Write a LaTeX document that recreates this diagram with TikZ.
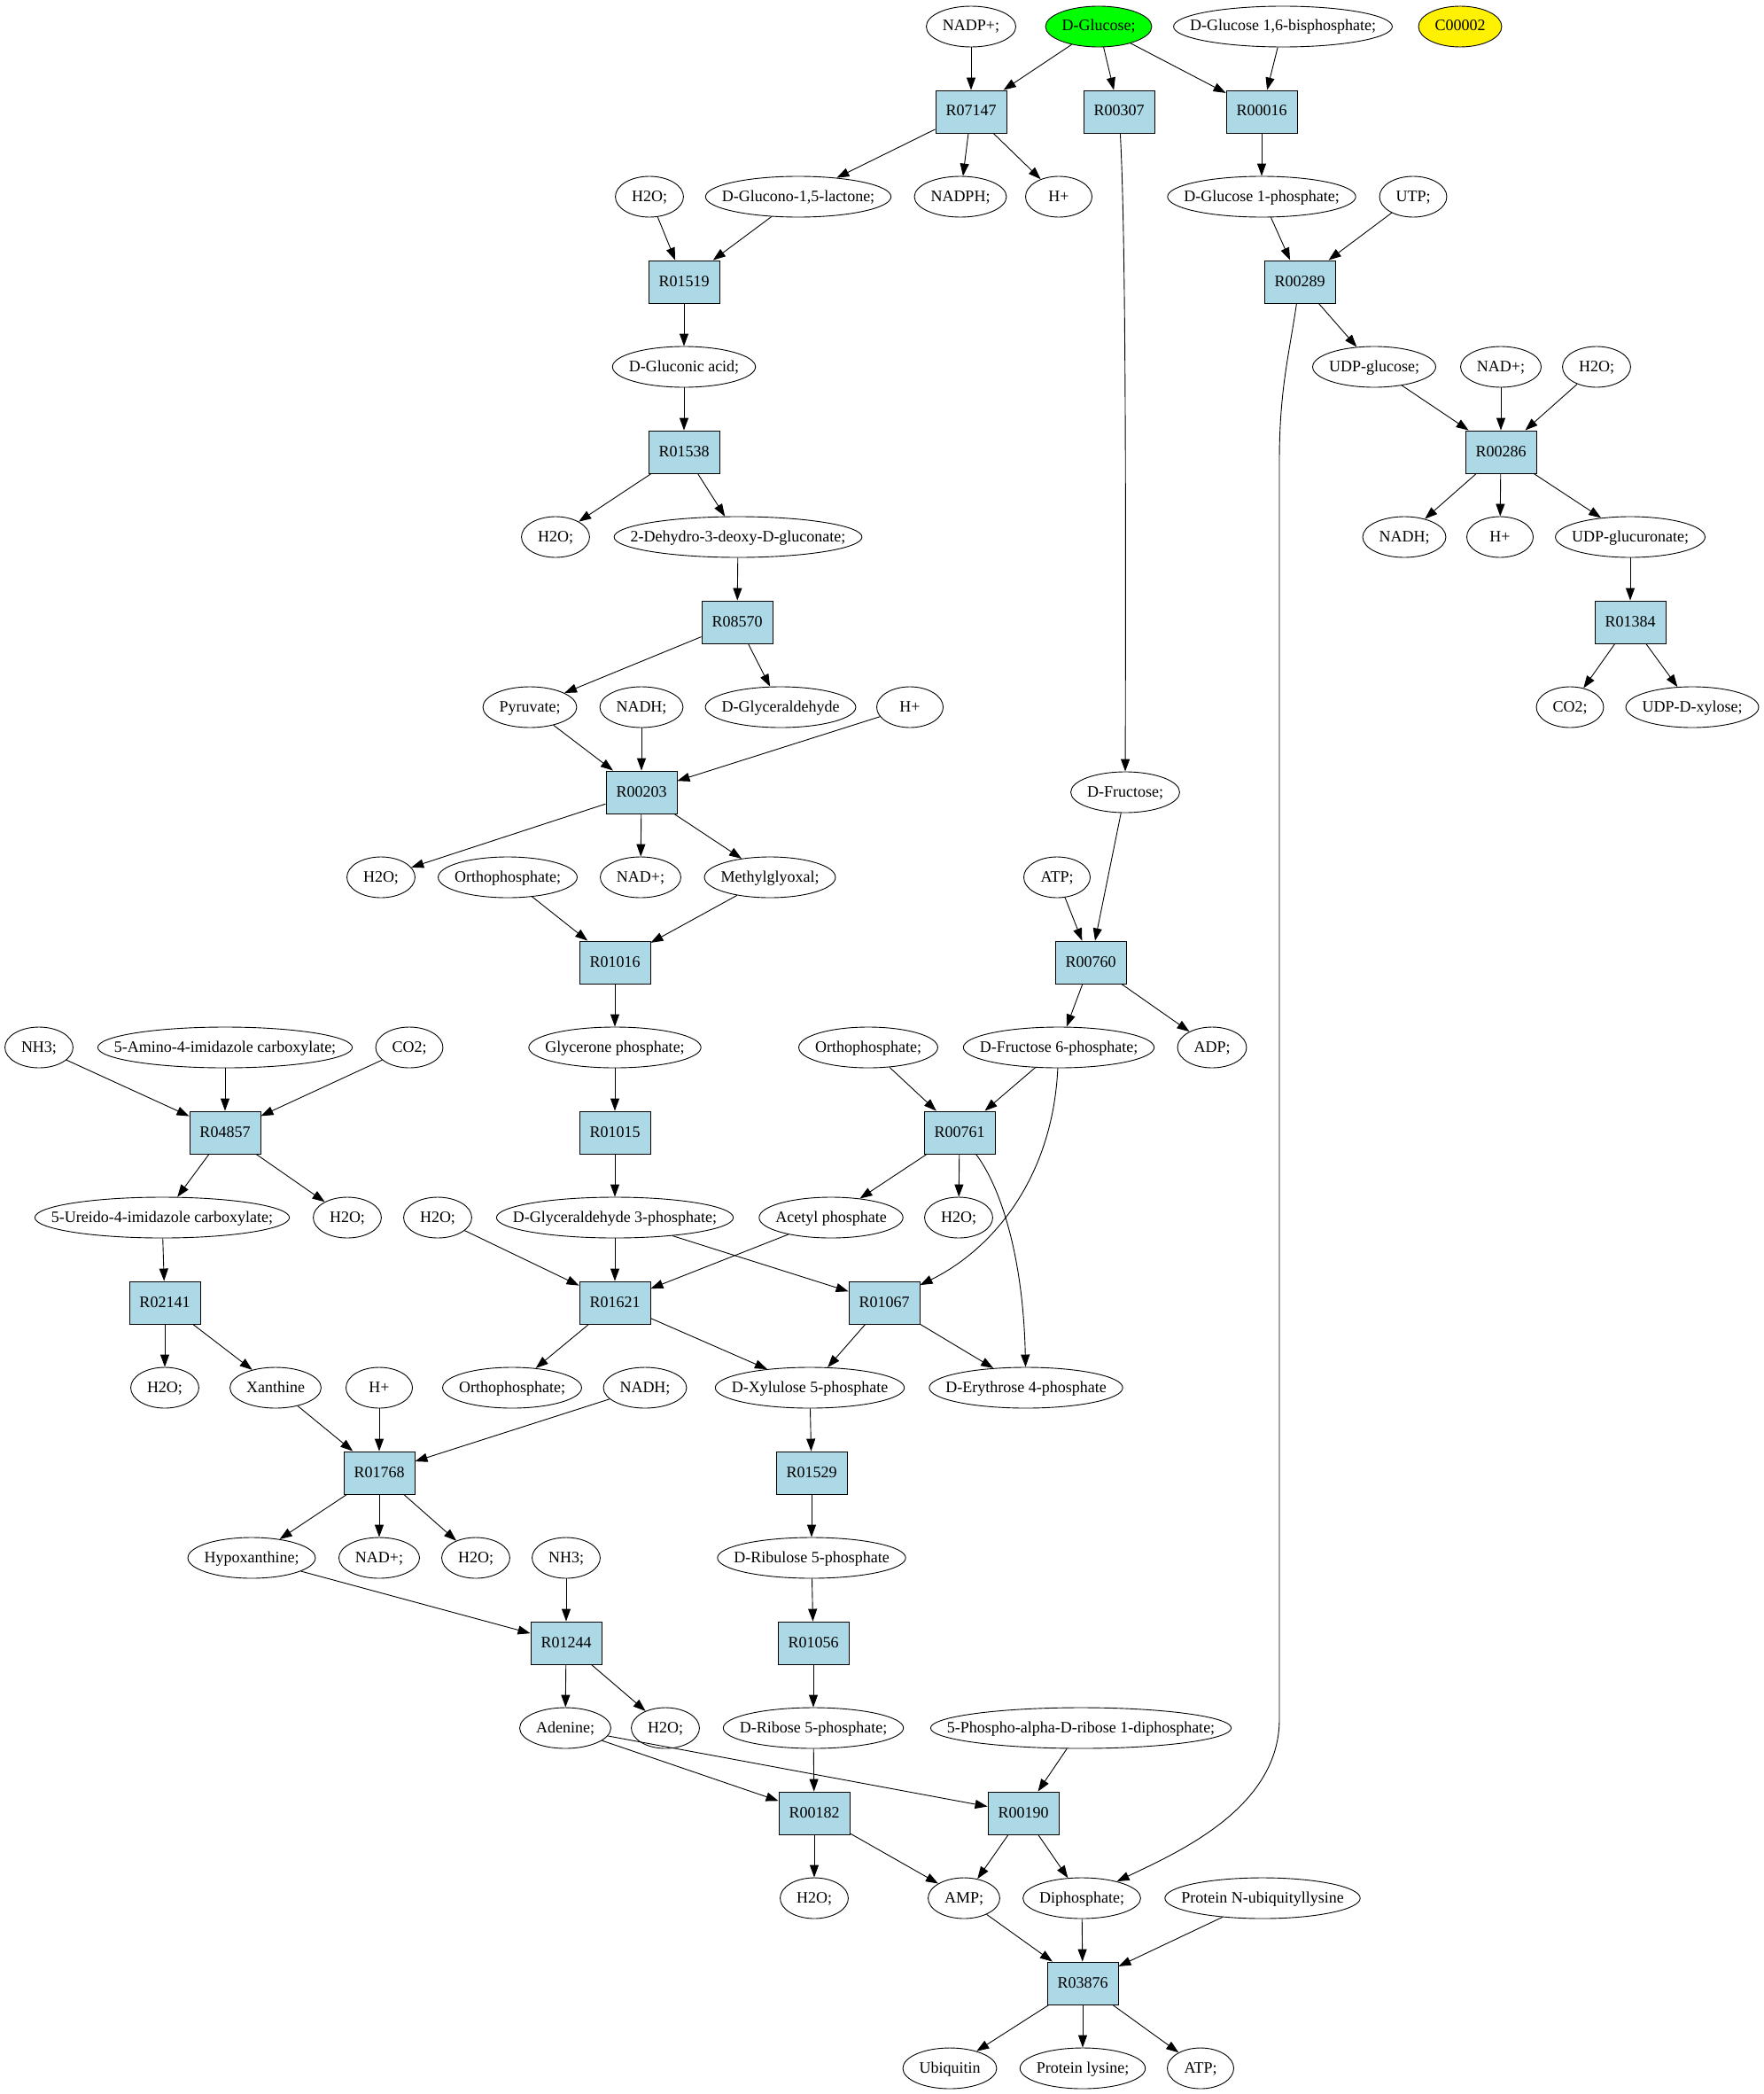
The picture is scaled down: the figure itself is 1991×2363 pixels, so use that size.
\documentclass[tikz,border=0pt]{standalone}
\usepackage{fontspec}
\setmainfont{Liberation Serif}
\usetikzlibrary{arrows.meta,shapes.geometric,calc}
\definecolor{rxnblue}{HTML}{ADD8E6}
\newcommand\gvsize{\fontsize{18}{22}\selectfont}
\tikzset{
  cpd/.style={ellipse,draw,inner xsep=-80pt,inner ysep=0pt,minimum height=46pt,font=\gvsize,text height=13pt,text depth=3pt},
  cpdbox/.style={rectangle,inner sep=0pt,font=\gvsize},
  rxn/.style={rectangle,draw,fill=rxnblue,inner sep=0pt,minimum width=80pt,minimum height=48pt,font=\gvsize,text height=13pt,text depth=3pt}
}
% 化合物（楕円の幅は文字幅+36pt、最小75pt）
\newcommand\cpd[4][white]{%
  \node[cpdbox] (#2x) at (#3) {\phantom{#4}};
  \path let \p1=(#2x.west), \p2=(#2x.east), \n1={max(\x2-\x1+36,75)} in
    node[cpd,fill=#1,minimum width=\n1] (#2) at (#3) {#4};}
\begin{document}
\begin{tikzpicture}[x=1pt,y=-1pt,line width=0.9pt,>={Triangle[length=14pt,width=10pt]}]
   \useasboundingbox (0,0) rectangle (1991,2363);
   % 化合物
   \cpd{nadpp}{1096,30}{NADP+;}
   \cpd[green]{glc}{1240,30}{D-Glucose;}
   \cpd{gbp}{1448,30}{D-Glucose 1,6-bisphosphate;}
   \cpd[yellow]{c00002}{1648,30}{C00002}
   \cpd{h2oa}{733,222}{H2O;}
   \cpd{gdl}{901,222}{D-Glucono-1,5-lactone;}
   \cpd{nadph}{1084,222}{NADPH;}
   \cpd{hpa}{1195,222}{H+}
   \cpd{gip}{1424,222}{D-Glucose 1-phosphate;}
   \cpd{utp}{1595,222}{UTP;}
   \cpd{glca}{772,414}{D-Gluconic acid;}
   \cpd{udpg}{1551,414}{UDP-glucose;}
   \cpd{nada}{1694,414}{NAD+;}
   \cpd{h2ob}{1802,414}{H2O;}
   \cpd{h2oc}{627,606}{H2O;}
   \cpd{kdg}{833,606}{2-Dehydro-3-deoxy-D-gluconate;}
   \cpd{nadha}{1585,606}{NADH;}
   \cpd{hpb}{1693,606}{H+}
   \cpd{udpga}{1840,606}{UDP-glucuronate;}
   \cpd{pyr}{598,798}{Pyruvate;}
   \cpd{nadhb}{724,798}{NADH;}
   \cpd{glyald}{881,798}{D-Glyceraldehyde}
   \cpd{hpc}{1027,798}{H+}
   \cpd{co2a}{1772,798}{CO2;}
   \cpd{udpx}{1910,798}{UDP-D-xylose;}
   \cpd{fru}{1270,894}{D-Fructose;}
   \cpd{h2od}{430,990}{H2O;}
   \cpd{pia}{573,990}{Orthophosphate;}
   \cpd{nadb}{723,990}{NAD+;}
   \cpd{mgo}{869,990}{Methylglyoxal;}
   \cpd{atpa}{1193,990}{ATP;}
   \cpd{nh3a}{44,1182}{NH3;}
   \cpd{aic}{254,1182}{5-Amino-4-imidazole carboxylate;}
   \cpd{co2b}{462,1182}{CO2;}
   \cpd{dhap}{694,1182}{Glycerone phosphate;}
   \cpd{pib}{980,1182}{Orthophosphate;}
   \cpd{f6p}{1195,1182}{D-Fructose 6-phosphate;}
   \cpd{adp}{1368,1182}{ADP;}
   \cpd{uic}{183,1374}{5-Ureido-4-imidazole carboxylate;}
   \cpd{h2oe}{392,1374}{H2O;}
   \cpd{h2of}{494,1374}{H2O;}
   \cpd{gap}{694,1374}{D-Glyceraldehyde 3-phosphate;}
   \cpd{acp}{938,1374}{Acetyl phosphate}
   \cpd{h2og}{1082,1374}{H2O;}
   \cpd{h2oh}{186,1566}{H2O;}
   \cpd{xan}{311,1566}{Xanthine}
   \cpd{hpd}{428,1566}{H+}
   \cpd{pic}{578,1566}{Orthophosphate;}
   \cpd{nadhc}{728,1566}{NADH;}
   \cpd{xup}{914,1566}{D-Xylulose 5-phosphate}
   \cpd{e4p}{1158,1566}{D-Erythrose 4-phosphate}
   \cpd{hyp}{284,1758}{Hypoxanthine;}
   \cpd{nadc}{428,1758}{NAD+;}
   \cpd{h2oi}{537,1758}{H2O;}
   \cpd{nh3b}{639,1758}{NH3;}
   \cpd{rup}{916,1758}{D-Ribulose 5-phosphate}
   \cpd{ade}{638,1950}{Adenine;}
   \cpd{h2oj}{751,1950}{H2O;}
   \cpd{r5p}{918,1950}{D-Ribose 5-phosphate;}
   \cpd{prpp}{1220,1950}{5-Phospho-alpha-D-ribose 1-diphosphate;}
   \cpd{h2ok}{919,2142}{H2O;}
   \cpd{amp}{1088,2142}{AMP;}
   \cpd{ppi}{1221,2142}{Diphosphate;}
   \cpd{pnub}{1425,2142}{Protein N-ubiquityllysine}
   \cpd{ubq}{1072,2334}{Ubiquitin}
   \cpd{plys}{1222,2334}{Protein lysine;}
   \cpd{atpb}{1355,2334}{ATP;}
   % 反応
   \node[rxn] (r07147) at (1096,126) {R07147};
   \node[rxn] (r00307) at (1263,126) {R00307};
   \node[rxn] (r00016) at (1424,126) {R00016};
   \node[rxn] (r01519) at (772,318) {R01519};
   \node[rxn] (r00289) at (1467,318) {R00289};
   \node[rxn] (r01538) at (772,510) {R01538};
   \node[rxn] (r00286) at (1694,510) {R00286};
   \node[rxn] (r08570) at (832,702) {R08570};
   \node[rxn] (r01384) at (1840,702) {R01384};
   \node[rxn] (r00203) at (724,894) {R00203};
   \node[rxn] (r01016) at (694,1086) {R01016};
   \node[rxn] (r00760) at (1231,1086) {R00760};
   \node[rxn] (r04857) at (254,1278) {R04857};
   \node[rxn] (r01015) at (694,1278) {R01015};
   \node[rxn] (r00761) at (1083,1278) {R00761};
   \node[rxn] (r02141) at (186,1470) {R02141};
   \node[rxn] (r01621) at (694,1470) {R01621};
   \node[rxn] (r01067) at (998,1470) {R01067};
   \node[rxn] (r01768) at (428,1662) {R01768};
   \node[rxn] (r01529) at (916,1662) {R01529};
   \node[rxn] (r01244) at (639,1854) {R01244};
   \node[rxn] (r01056) at (918,1854) {R01056};
   \node[rxn] (r00182) at (919,2046) {R00182};
   \node[rxn] (r00190) at (1155,2046) {R00190};
   \node[rxn] (r03876) at (1222,2238) {R03876};
   % 矢印
   \draw[->] (nadpp) -- (r07147);
   \draw[->] (glc) -- (r07147);
   \draw[->] (glc) -- (r00307);
   \draw[->] (glc) -- (r00016);
   \draw[->] (gbp) -- (r00016);
   \draw[->] (r07147) -- (gdl);
   \draw[->] (r07147) -- (nadph);
   \draw[->] (r07147) -- (hpa);
   \draw[->] (r00016) -- (gip);
   \draw[->] (h2oa) -- (r01519);
   \draw[->] (gdl) -- (r01519);
   \draw[->] (gip) -- (r00289);
   \draw[->] (utp) -- (r00289);
   \draw[->] (r00289) -- (udpg);
   \draw[->] (r00307) .. controls (1270,250) and (1271,500) .. (fru);
   \draw[->] (r00289) .. controls (1455,400) and (1444,440) .. (1444,520) -- (1444,1940) .. controls (1444,2040) and (1330,2090) .. (ppi);
   \draw[->] (r01519) -- (glca);
   \draw[->] (glca) -- (r01538);
   \draw[->] (r01538) -- (h2oc);
   \draw[->] (r01538) -- (kdg);
   \draw[->] (kdg) -- (r08570);
   \draw[->] (udpg) -- (r00286);
   \draw[->] (nada) -- (r00286);
   \draw[->] (h2ob) -- (r00286);
   \draw[->] (r00286) -- (nadha);
   \draw[->] (r00286) -- (hpb);
   \draw[->] (r00286) -- (udpga);
   \draw[->] (udpga) -- (r01384);
   \draw[->] (r01384) -- (co2a);
   \draw[->] (r01384) -- (udpx);
   \draw[->] (r08570) -- (pyr);
   \draw[->] (r08570) -- (glyald);
   \draw[->] (pyr) -- (r00203);
   \draw[->] (nadhb) -- (r00203);
   \draw[->] (hpc) -- (r00203);
   \draw[->] (r00203) -- (h2od);
   \draw[->] (r00203) -- (nadb);
   \draw[->] (r00203) -- (mgo);
   \draw[->] (pia) -- (r01016);
   \draw[->] (mgo) -- (r01016);
   \draw[->] (r01016) -- (dhap);
   \draw[->] (dhap) -- (r01015);
   \draw[->] (r01015) -- (gap);
   \draw[->] (fru) -- (r00760);
   \draw[->] (atpa) -- (r00760);
   \draw[->] (r00760) -- (f6p);
   \draw[->] (r00760) -- (adp);
   \draw[->] (pib) -- (r00761);
   \draw[->] (f6p) -- (r00761);
   \draw[->] (f6p) .. controls (1188,1330) and (1120,1410) .. (r01067);
   \draw[->] (r00761) -- (acp);
   \draw[->] (r00761) -- (h2og);
   \draw[->] (r00761) .. controls (1130,1340) and (1155,1420) .. (e4p);
   \draw[->] (nh3a) -- (r04857);
   \draw[->] (aic) -- (r04857);
   \draw[->] (co2b) -- (r04857);
   \draw[->] (r04857) -- (uic);
   \draw[->] (r04857) -- (h2oe);
   \draw[->] (uic) -- (r02141);
   \draw[->] (r02141) -- (h2oh);
   \draw[->] (r02141) -- (xan);
   \draw[->] (h2of) -- (r01621);
   \draw[->] (gap) -- (r01621);
   \draw[->] (acp) -- (r01621);
   \draw[->] (gap) -- (r01067);
   \draw[->] (r01621) -- (pic);
   \draw[->] (r01621) -- (xup);
   \draw[->] (r01067) -- (xup);
   \draw[->] (r01067) -- (e4p);
   \draw[->] (xan) -- (r01768);
   \draw[->] (hpd) -- (r01768);
   \draw[->] (nadhc) -- (r01768);
   \draw[->] (r01768) -- (hyp);
   \draw[->] (r01768) -- (nadc);
   \draw[->] (r01768) -- (h2oi);
   \draw[->] (xup) -- (r01529);
   \draw[->] (r01529) -- (rup);
   \draw[->] (rup) -- (r01056);
   \draw[->] (r01056) -- (r5p);
   \draw[->] (hyp) -- (r01244);
   \draw[->] (nh3b) -- (r01244);
   \draw[->] (r01244) -- (ade);
   \draw[->] (r01244) -- (h2oj);
   \draw[->] (r5p) -- (r00182);
   \draw[->] (ade) -- (r00182);
   \draw[->] (ade) -- (r00190);
   \draw[->] (prpp) -- (r00190);
   \draw[->] (r00182) -- (h2ok);
   \draw[->] (r00182) -- (amp);
   \draw[->] (r00190) -- (amp);
   \draw[->] (r00190) -- (ppi);
   \draw[->] (amp) -- (r03876);
   \draw[->] (ppi) -- (r03876);
   \draw[->] (pnub) -- (r03876);
   \draw[->] (r03876) -- (ubq);
   \draw[->] (r03876) -- (plys);
   \draw[->] (r03876) -- (atpb);
\end{tikzpicture}
\end{document}
